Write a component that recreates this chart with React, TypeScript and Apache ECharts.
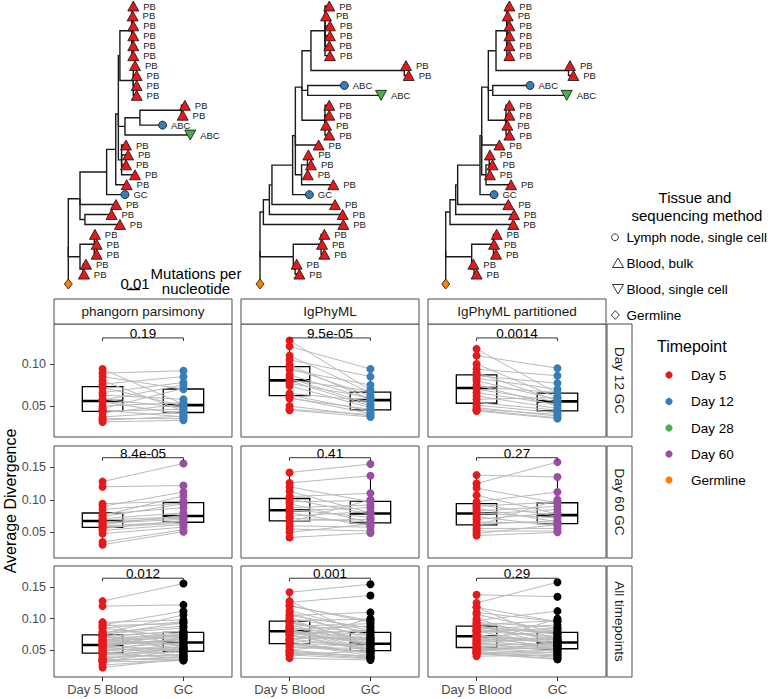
import React, { useEffect, useRef } from "react";
import * as echarts from "echarts";

// ---------------- data ----------------
const methods = ["phangorn parsimony", "IgPhyML", "IgPhyML partitioned"];
const gcRows = ["Day 12 GC", "Day 60 GC", "All timepoints"];
const xCategories = ["Day 5 Blood", "GC"];
const timepoints = ["Day 5", "Day 12", "Day 28", "Day 60", "Germline"];
const timepointColors = ["#E41A1C", "#377EB8", "#4DAF4A", "#984EA3", "#FF7F00"];
const tissueLabels = ["Lymph node, single cell", "Blood, bulk", "Blood, single cell", "Germline"];
const pValues = [
  ["0.19", "9.5e-05", "0.0014"],
  ["8.4e-05", "0.41", "0.27"],
  ["0.012", "0.001", "0.29"],
];
const yTicks = [[0.05, 0.1], [0.05, 0.1, 0.15], [0.05, 0.1, 0.15]];
const yRanges = [[0.0131, 0.1476], [0.0105, 0.1828], [0.0069, 0.184]];
const bracketY = [0.131, 0.1648, 0.1645];
const scaleBarLength = 0.01;

// paired average divergence: Day 5 blood vs GC, per method (phangorn, IgPhyML, IgPhyML partitioned)
const day12Blood = [
  [0.094, 0.089, 0.085, 0.080, 0.076, 0.072, 0.066, 0.063, 0.058, 0.057, 0.055, 0.050, 0.047, 0.045, 0.044, 0.042, 0.037, 0.035, 0.033, 0.031],
  [0.128, 0.121, 0.110, 0.105, 0.099, 0.096, 0.093, 0.087, 0.083, 0.081, 0.080, 0.077, 0.074, 0.065, 0.063, 0.060, 0.059, 0.050, 0.046, 0.045],
  [0.118, 0.110, 0.100, 0.094, 0.090, 0.086, 0.083, 0.080, 0.075, 0.073, 0.070, 0.066, 0.062, 0.058, 0.054, 0.051, 0.048, 0.046, 0.045, 0.044],
];
const day12Gc = [
  [0.052, 0.092, 0.070, 0.044, 0.085, 0.050, 0.078, 0.058, 0.048, 0.075, 0.040, 0.054, 0.071, 0.037, 0.046, 0.052, 0.043, 0.035, 0.038, 0.033],
  [0.069, 0.094, 0.066, 0.085, 0.058, 0.062, 0.075, 0.058, 0.052, 0.068, 0.050, 0.060, 0.048, 0.056, 0.044, 0.041, 0.046, 0.038, 0.040, 0.037],
  [0.065, 0.095, 0.060, 0.086, 0.056, 0.077, 0.070, 0.058, 0.050, 0.066, 0.055, 0.052, 0.047, 0.060, 0.045, 0.042, 0.038, 0.040, 0.036, 0.035],
];
const day60Blood = [
  [0.128, 0.120, 0.094, 0.090, 0.085, 0.078, 0.076, 0.074, 0.071, 0.069, 0.066, 0.064, 0.062, 0.060, 0.058, 0.056, 0.053, 0.048, 0.035, 0.031],
  [0.142, 0.126, 0.120, 0.113, 0.105, 0.101, 0.097, 0.094, 0.088, 0.085, 0.083, 0.080, 0.075, 0.072, 0.068, 0.066, 0.060, 0.055, 0.050, 0.042],
  [0.138, 0.125, 0.118, 0.107, 0.097, 0.093, 0.090, 0.087, 0.083, 0.080, 0.078, 0.074, 0.070, 0.066, 0.062, 0.060, 0.056, 0.052, 0.048, 0.045],
];
const day60Gc = [
  [0.156, 0.122, 0.098, 0.112, 0.095, 0.088, 0.106, 0.094, 0.080, 0.074, 0.072, 0.070, 0.076, 0.066, 0.064, 0.068, 0.062, 0.058, 0.054, 0.051],
  [0.155, 0.137, 0.097, 0.080, 0.110, 0.078, 0.099, 0.065, 0.092, 0.073, 0.088, 0.060, 0.082, 0.066, 0.070, 0.100, 0.058, 0.052, 0.063, 0.049],
  [0.135, 0.158, 0.095, 0.078, 0.112, 0.075, 0.097, 0.066, 0.090, 0.072, 0.085, 0.060, 0.080, 0.064, 0.068, 0.100, 0.056, 0.052, 0.062, 0.050],
];
const day28Blood = [
  [0.072, 0.065, 0.058, 0.052, 0.045, 0.040, 0.032, 0.026, 0.022],
  [0.090, 0.082, 0.075, 0.068, 0.060, 0.055, 0.048, 0.042, 0.037],
  [0.088, 0.080, 0.072, 0.066, 0.060, 0.054, 0.050, 0.044, 0.040],
];
const day28Gc = [
  [0.080, 0.060, 0.068, 0.048, 0.055, 0.042, 0.040, 0.034, 0.036],
  [0.060, 0.058, 0.050, 0.052, 0.045, 0.048, 0.040, 0.036, 0.034],
  [0.075, 0.082, 0.062, 0.070, 0.058, 0.052, 0.055, 0.046, 0.042],
];

// trees: internal node = [divergence, children]; tip = [kind, divergence]
const tree1: any = [0, [
  [0.009, [
    [0.0295, [
      [0.0365, [
        [0.0385, [
          [0.0397, [
            [0.049, [["PB", 0.050], ["PB", 0.0495], ["PB", 0.050], ["PB", 0.050], ["PB", 0.050], ["PB", 0.050]]],
            [0.050, [["PB", 0.0513], ["PB", 0.0526], ["PB", 0.0526], ["PB", 0.0526]]],
          ]],
          [0.0436, [
            [0.0551, [
              [0.087, [["PB", 0.0897], ["PB", 0.088]]],
              ["ABC", 0.0725],
            ]],
            ["ABCv", 0.0938],
          ]],
          [0.041, [["PB", 0.0444], ["PB", 0.046], ["PB", 0.0444], ["PB", 0.0513]]],
        ]],
        ["PB", 0.0449],
      ]],
      ["GC", 0.0436],
    ]],
    ["PB", 0.0367],
    [0.0128, [["PB", 0.0333], ["PB", 0.0397]]],
  ]],
  [0.009, [
    [0.020, [["PB", 0.0205], ["PB", 0.0218], ["PB", 0.0218]]],
    [0.0115, [["PB", 0.0136], ["PB", 0.012]]],
  ]],
  ["GL", 0],
]];

const tree2: any = [0, [
  [0.0026, [
    [0.0072, [
      [0.0092, [
        [0.0251, [
          [0.0272, [
            [0.0323, [
              [0.0392, [
                [0.050, [["PB", 0.0533], ["PB", 0.0508], ["PB", 0.0538], ["PB", 0.0538], ["PB", 0.0533], ["PB", 0.0538]]],
                [0.111, [["PB", 0.1123], ["PB", 0.1144]]],
              ]],
              [0.0367, [["ABC", 0.0649], ["ABCv", 0.0931]]],
              [0.050, [["PB", 0.0533], ["PB", 0.0533], ["PB", 0.0508], ["PB", 0.0533]]],
            ]],
            ["PB", 0.0451],
            [0.032, [
              [0.0365, [["PB", 0.0372], ["PB", 0.0392], ["PB", 0.0367]]],
              ["PB", 0.0564],
            ]],
          ]],
          ["GC", 0.038],
        ]],
        ["PB", 0.0577],
      ]],
      ["PB", 0.0636],
    ]],
    ["PB", 0.0641],
  ]],
  [0.0256, [
    [0.047, [["PB", 0.0495], ["PB", 0.0477], ["PB", 0.0495]]],
    [0.027, [["PB", 0.0282], ["PB", 0.0303]]],
  ]],
  ["GL", 0],
]];

const tree3: any = [0, [
  [0.0033, [
    [0.0077, [
      [0.0092, [
        [0.0264, [
          [0.0277, [
            [0.0328, [
              [0.0387, [
                [0.047, [["PB", 0.049], ["PB", 0.0477], ["PB", 0.049], ["PB", 0.049], ["PB", 0.049], ["PB", 0.049]]],
                [0.0945, [["PB", 0.0956], ["PB", 0.0982]]],
              ]],
              [0.0362, [["ABC", 0.0649], ["ABCv", 0.0931]]],
              [0.0464, [["PB", 0.049], ["PB", 0.049], ["PB", 0.0474], ["PB", 0.049]]],
            ]],
            ["PB", 0.0413],
            [0.031, [
              [0.0335, [["PB", 0.034], ["PB", 0.036], ["PB", 0.034]]],
              ["PB", 0.0503],
            ]],
          ]],
          ["GC", 0.0372],
        ]],
        ["PB", 0.0482],
      ]],
      ["PB", 0.0526],
    ]],
    ["PB", 0.052],
  ]],
  [0.02, [
    [0.0367, [["PB", 0.0392], ["PB", 0.0372], ["PB", 0.0387]]],
    [0.0218, [["PB", 0.0213], ["PB", 0.0238]]],
  ]],
  ["GL", 0],
]];
const trees = [tree1, tree2, tree3];

// ---------------- layout / style ----------------
const FONT = "'Liberation Sans', Arial, Helvetica, sans-serif";
const PANEL_LEFT = [54, 241, 428];
const PANEL_W = 178;
const PANEL_TOP = [324, 446, 566];
const PANEL_H = [113, 112, 111];
const STRIP_H = 25;
const RIGHT_STRIP_X = 607;
const TREE_LEFT = [68.3, 260, 445.7];
const TIP_SPACING = 278 / 28;
const BORDER = "#4d4d4d";

const tipStyle: any = {
  PB: { symbol: "triangle", size: [11, 10], rotate: 0, color: timepointColors[0], label: "PB" },
  ABC: { symbol: "circle", size: 8, rotate: 0, color: timepointColors[1], label: "ABC" },
  ABCv: { symbol: "triangle", size: [11, 10], rotate: 180, color: timepointColors[2], label: "ABC" },
  GC: { symbol: "circle", size: 8, rotate: 0, color: timepointColors[1], label: "GC" },
  GL: { symbol: "diamond", size: [8, 10], rotate: 0, color: timepointColors[4], label: "" },
};

function layoutTree(root: any) {
  let idx = 0;
  const edges: number[][] = [];
  const tips: any[] = [];
  const walk = (node: any): { x: number; y: number } => {
    if (typeof node[0] === "string") {
      const y = idx++;
      tips.push({ kind: node[0], x: node[1], y });
      return { x: node[1], y };
    }
    const x = node[0];
    const pts = node[1].map(walk);
    const y = pts.reduce((s: number, p: any) => s + p.y, 0) / pts.length;
    pts.forEach((p: any) => edges.push([x, y, p.x, p.y]));
    return { x, y };
  };
  walk(root);
  return { edges, tips };
}

function quantile(s: number[], p: number) {
  const h = (s.length - 1) * p;
  const lo = Math.floor(h);
  const hi = Math.min(lo + 1, s.length - 1);
  return s[lo] + (h - lo) * (s[hi] - s[lo]);
}
function boxStats(vals: number[]) {
  const s = [...vals].sort((a, b) => a - b);
  const q1 = quantile(s, 0.25), med = quantile(s, 0.5), q3 = quantile(s, 0.75);
  const iqr = q3 - q1;
  const lo = s.find((v) => v >= q1 - 1.5 * iqr) as number;
  const hi = [...s].reverse().find((v) => v <= q3 + 1.5 * iqr) as number;
  return [lo, q1, med, q3, hi];
}

function buildOption() {
  const grid: any[] = [];
  const xAxis: any[] = [];
  const yAxis: any[] = [];
  const series: any[] = [];
  const graphic: any[] = [];
  const gcColors = [timepointColors[1], timepointColors[3], "#000000"];

  for (let r = 0; r < 3; r++) {
    for (let c = 0; c < 3; c++) {
      const gi = grid.length;
      grid.push({
        left: PANEL_LEFT[c], top: PANEL_TOP[r], width: PANEL_W, height: PANEL_H[r],
        show: true, borderColor: BORDER, borderWidth: 1, backgroundColor: "#fff",
      });
      xAxis.push({
        type: "value", gridIndex: gi, min: 0.4, max: 2.6,
        axisLine: { show: false }, splitLine: { show: false },
        axisTick: { show: r === 2, customValues: [1, 2], length: 4, lineStyle: { color: "#333" } },
        axisLabel: {
          show: r === 2, customValues: [1, 2], margin: 6, fontSize: 13, color: "#4d4d4d", fontFamily: FONT,
          formatter: (v: number) => xCategories[Math.round(v) - 1] ?? "",
        },
      });
      yAxis.push({
        type: "value", gridIndex: gi, min: yRanges[r][0], max: yRanges[r][1],
        axisLine: { show: false }, splitLine: { show: false },
        axisTick: { show: c === 0, customValues: yTicks[r], length: 4, lineStyle: { color: "#333" } },
        axisLabel: {
          show: c === 0, customValues: yTicks[r], margin: 8, fontSize: 12.5, color: "#4d4d4d", fontFamily: FONT,
          formatter: (v: number) => v.toFixed(2),
        },
      });

      const blood = r === 0 ? day12Blood[c] : r === 1 ? day60Blood[c] : [...day12Blood[c], ...day60Blood[c], ...day28Blood[c]];
      const gc = r === 0 ? day12Gc[c] : r === 1 ? day60Gc[c] : [...day12Gc[c], ...day60Gc[c], ...day28Gc[c]];

      // boxes
      series.push({
        type: "custom", xAxisIndex: gi, yAxisIndex: gi, silent: true, z: 2,
        encode: { x: 0, y: [1, 2, 3, 4, 5] },
        data: [[1, ...boxStats(blood)], [2, ...boxStats(gc)]],
        renderItem: (params: any, api: any) => {
          const x = api.value(0);
          const bw = api.size([0.5, 0])[0];
          const pLo = api.coord([x, api.value(1)]);
          const pQ1 = api.coord([x, api.value(2)]);
          const pMed = api.coord([x, api.value(3)]);
          const pQ3 = api.coord([x, api.value(4)]);
          const pHi = api.coord([x, api.value(5)]);
          const cx = pQ1[0];
          return {
            type: "group",
            children: [
              { type: "line", shape: { x1: cx, y1: pHi[1], x2: cx, y2: pQ3[1] }, style: { stroke: "#000", lineWidth: 1.1 } },
              { type: "line", shape: { x1: cx, y1: pQ1[1], x2: cx, y2: pLo[1] }, style: { stroke: "#000", lineWidth: 1.1 } },
              { type: "rect", shape: { x: cx - bw / 2, y: pQ3[1], width: bw, height: pQ1[1] - pQ3[1] }, style: { fill: "#fff", stroke: "#000", lineWidth: 1.3 } },
              { type: "line", shape: { x1: cx - bw / 2, y1: pMed[1], x2: cx + bw / 2, y2: pMed[1] }, style: { stroke: "#000", lineWidth: 2.6 } },
            ],
          };
        },
      });
      // paired lines
      series.push({
        type: "custom", xAxisIndex: gi, yAxisIndex: gi, silent: true, z: 3,
        encode: { x: [0, 2], y: [1, 3] },
        data: blood.map((b, k) => [1, b, 2, gc[k]]),
        renderItem: (params: any, api: any) => {
          const a = api.coord([api.value(0), api.value(1)]);
          const b = api.coord([api.value(2), api.value(3)]);
          return { type: "line", shape: { x1: a[0], y1: a[1], x2: b[0], y2: b[1] }, style: { stroke: "#bababa", lineWidth: 1 } };
        },
      });
      // points
      series.push({
        type: "scatter", xAxisIndex: gi, yAxisIndex: gi, silent: true, z: 4,
        symbolSize: 8, itemStyle: { color: timepointColors[0], opacity: 1 },
        data: blood.map((v) => [1, v]),
      });
      series.push({
        type: "scatter", xAxisIndex: gi, yAxisIndex: gi, silent: true, z: 4,
        symbolSize: 8, itemStyle: { color: gcColors[r], opacity: 1 },
        data: gc.map((v) => [2, v]),
      });
      // p-value bracket
      const label = pValues[r][c];
      series.push({
        type: "custom", xAxisIndex: gi, yAxisIndex: gi, silent: true, z: 5,
        encode: { x: [0, 2], y: 1 },
        data: [[1, bracketY[r], 2]],
        renderItem: (params: any, api: any) => {
          const a = api.coord([api.value(0), api.value(1)]);
          const b = api.coord([api.value(2), api.value(1)]);
          return {
            type: "group",
            children: [
              { type: "polyline", shape: { points: [[a[0], a[1] + 3], a, b, [b[0], b[1] + 3]] }, style: { stroke: "#333", lineWidth: 1, fill: null } },
              {
                type: "text", x: (a[0] + b[0]) / 2, y: a[1] + 2.5,
                style: { text: label, fontSize: 13.5, fontFamily: FONT, fill: "#000", align: "center", verticalAlign: "bottom", textAlign: "center", textVerticalAlign: "bottom" },
              },
            ],
          };
        },
      });
    }
  }

  // ---------- trees ----------
  trees.forEach((tree, t) => {
    const gi = grid.length;
    grid.push({ left: TREE_LEFT[t], top: 6, width: 195, height: TIP_SPACING * 29, show: false });
    xAxis.push({ type: "value", gridIndex: gi, min: 0, max: 0.15, show: false });
    yAxis.push({ type: "value", gridIndex: gi, min: 0, max: 29, inverse: true, show: false });
    const { edges, tips } = layoutTree(tree);
    series.push({
      type: "custom", xAxisIndex: gi, yAxisIndex: gi, silent: true, z: 2,
      encode: { x: [0, 2], y: [1, 3] },
      data: edges,
      renderItem: (params: any, api: any) => {
        const p = api.coord([api.value(0), api.value(1)]);
        const m = api.coord([api.value(0), api.value(3)]);
        const q = api.coord([api.value(2), api.value(3)]);
        return { type: "polyline", shape: { points: [p, m, q] }, style: { stroke: "#1a1a1a", lineWidth: 1.4, fill: null, lineJoin: "miter" } };
      },
    });
    series.push({
      type: "scatter", xAxisIndex: gi, yAxisIndex: gi, silent: true, z: 3,
      data: tips.map((tp) => {
        const st = tipStyle[tp.kind];
        return {
          value: [tp.x, tp.y], name: st.label,
          symbol: st.symbol, symbolSize: st.size, symbolRotate: st.rotate,
          itemStyle: { color: st.color, borderColor: "#111", borderWidth: 0.8, opacity: 1 },
          label: { show: st.label !== "" },
        };
      }),
      label: { position: "right", distance: 4, formatter: "{b}", fontSize: 9.5, lineHeight: 9, color: "#1a1a1a", fontFamily: FONT },
    });
    if (t === 0) {
      series.push({
        type: "custom", xAxisIndex: gi, yAxisIndex: gi, silent: true, z: 3,
        encode: { x: [0, 2], y: 1 },
        data: [[0.04515, 28.55, 0.04515 + scaleBarLength]],
        renderItem: (params: any, api: any) => {
          const a = api.coord([api.value(0), api.value(1)]);
          const b = api.coord([api.value(2), api.value(1)]);
          return { type: "line", shape: { x1: a[0], y1: a[1], x2: b[0], y2: b[1] }, style: { stroke: "#000", lineWidth: 1.5 } };
        },
      });
    }
  });

  // ---------- strips ----------
  methods.forEach((m, c) => {
    graphic.push({ type: "rect", shape: { x: PANEL_LEFT[c], y: PANEL_TOP[0] - STRIP_H, width: PANEL_W, height: STRIP_H }, style: { fill: "#fff", stroke: BORDER, lineWidth: 1 }, silent: true });
    graphic.push({ type: "text", x: PANEL_LEFT[c] + PANEL_W / 2, y: PANEL_TOP[0] - STRIP_H / 2, style: { text: m, fontSize: 13.5, fontFamily: FONT, fill: "#1a1a1a", align: "center", verticalAlign: "middle", textAlign: "center", textVerticalAlign: "middle" }, silent: true });
  });
  gcRows.forEach((g, r) => {
    graphic.push({ type: "rect", shape: { x: RIGHT_STRIP_X, y: PANEL_TOP[r], width: STRIP_H, height: PANEL_H[r] }, style: { fill: "#fff", stroke: BORDER, lineWidth: 1 }, silent: true });
    graphic.push({ type: "text", x: RIGHT_STRIP_X + STRIP_H / 2, y: PANEL_TOP[r] + PANEL_H[r] / 2, rotation: -Math.PI / 2, style: { text: g, fontSize: 13.5, fontFamily: FONT, fill: "#1a1a1a", align: "center", verticalAlign: "middle", textAlign: "center", textVerticalAlign: "middle" }, silent: true });
  });

  // y axis title
  graphic.push({ type: "text", x: 10, y: 501, rotation: Math.PI / 2, style: { text: "Average Divergence", fontSize: 16, fontFamily: FONT, fill: "#000", align: "center", verticalAlign: "middle", textAlign: "center", textVerticalAlign: "middle" }, silent: true });

  const txt = (text: string, x: number, y: number, size: number, align = "left", color = "#000") => ({
    type: "text", x, y, silent: true,
    style: { text, fontSize: size, fontFamily: FONT, fill: color, align, verticalAlign: "middle", textAlign: align, textVerticalAlign: "middle" },
  });
  // scale bar text
  graphic.push(txt(String(scaleBarLength), 135, 283, 15, "center"));
  graphic.push(txt("Mutations per", 196, 273, 15, "center"));
  graphic.push(txt("nucleotide", 196, 288.5, 15, "center"));

  // tissue legend
  graphic.push(txt("Tissue and", 695, 197, 15, "center"));
  graphic.push(txt("sequencing method", 697, 215, 15, "center"));
  const legY = [237.3, 263, 289, 315];
  graphic.push({ type: "circle", shape: { cx: 615, cy: legY[0], r: 3.4 }, style: { fill: "none", stroke: "#333", lineWidth: 1 }, silent: true });
  graphic.push({ type: "polygon", shape: { points: [[612.5, legY[1] + 4.5], [623.5, legY[1] + 4.5], [618, legY[1] - 5]] }, style: { fill: "none", stroke: "#333", lineWidth: 1 }, silent: true });
  graphic.push({ type: "polygon", shape: { points: [[612.5, legY[2] - 4.5], [623.5, legY[2] - 4.5], [618, legY[2] + 5]] }, style: { fill: "none", stroke: "#333", lineWidth: 1 }, silent: true });
  graphic.push({ type: "polygon", shape: { points: [[615.3, legY[3] - 4.3], [619.3, legY[3]], [615.3, legY[3] + 4.3], [611.3, legY[3]]] }, style: { fill: "none", stroke: "#333", lineWidth: 1 }, silent: true });
  tissueLabels.forEach((l, i) => graphic.push(txt(l, 626.5, legY[i], 13.5)));

  // timepoint legend
  graphic.push(txt("Timepoint", 657, 346, 16));
  const tpY = [375, 401.5, 428, 454, 480];
  timepoints.forEach((tp, i) => {
    graphic.push({ type: "circle", shape: { cx: 669, cy: tpY[i], r: 3.6 }, style: { fill: timepointColors[i] }, silent: true });
    graphic.push(txt(tp, 691, tpY[i], 13.5));
  });

  return {
    animation: false,
    backgroundColor: "#fff",
    textStyle: { fontFamily: FONT },
    grid, xAxis, yAxis, series, graphic,
  };
}

export default function App() {
  const ref = useRef<HTMLDivElement>(null);
  useEffect(() => {
    document.body.style.margin = "0";
    const chart = echarts.init(ref.current as HTMLDivElement, null, { renderer: "svg" });
    chart.setOption(buildOption() as any);
    return () => chart.dispose();
  }, []);
  return <div ref={ref} style={{ width: 768, height: 699 }} />;
}
